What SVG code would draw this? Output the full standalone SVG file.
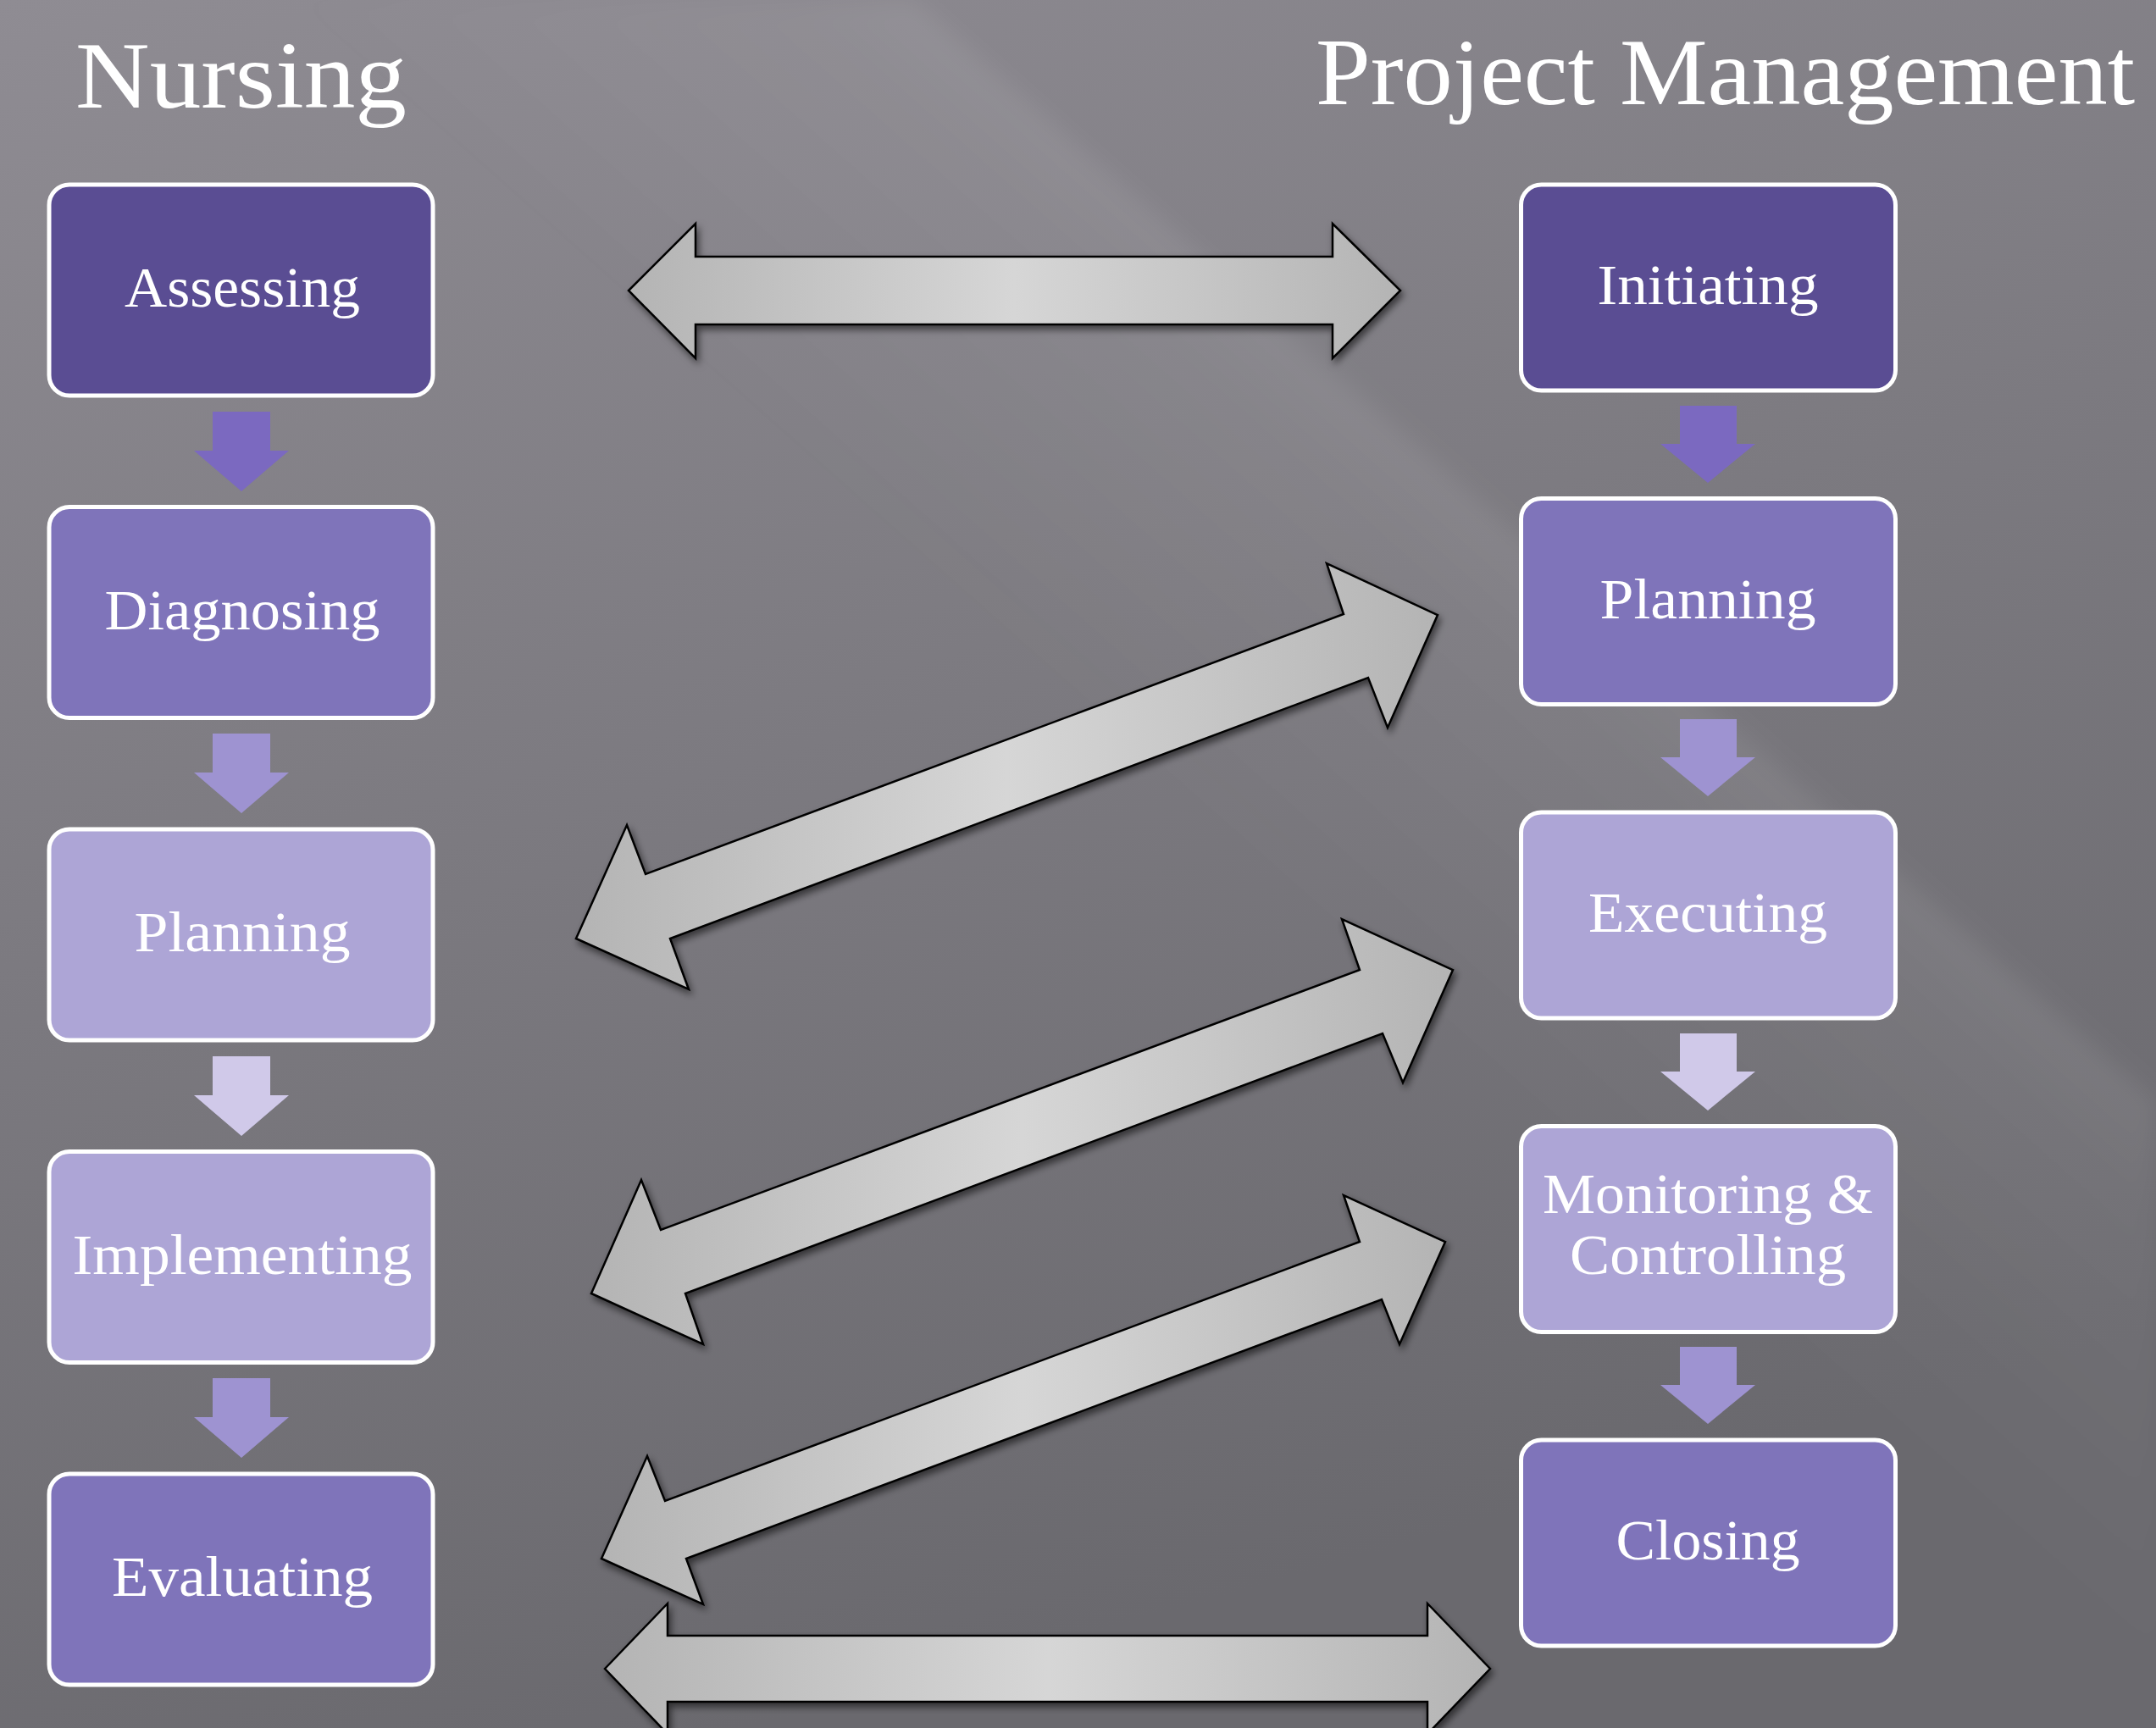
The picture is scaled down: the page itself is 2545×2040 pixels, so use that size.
<svg xmlns="http://www.w3.org/2000/svg" width="2545" height="2040" viewBox="0 0 2545 2040">
<defs>
<style>
.title{font-family:"Liberation Serif","DejaVu Serif",serif;font-size:112px;fill:#ffffff;}
.lbl{font-family:"Liberation Serif","DejaVu Serif",serif;font-size:68px;fill:#ffffff;text-anchor:middle;}
.box{stroke:#ffffff;stroke-width:5;}
.dark{fill:#5A4D93;}
.mid{fill:#7F74BA;}
.light{fill:#ADA5D6;}
.big{fill:url(#arrowGrad);stroke:#000000;stroke-width:2.5;stroke-linejoin:miter;filter:url(#shadow);}
</style>
<linearGradient id="bg" x1="0" y1="0" x2="0.35" y2="1">
<stop offset="0" stop-color="#8F8C93"/>
<stop offset="0.5" stop-color="#7C7A80"/>
<stop offset="1" stop-color="#6A696E"/>
</linearGradient>
<linearGradient id="band" gradientUnits="userSpaceOnUse" x1="1600" y1="463" x2="1268" y2="837">
<stop offset="0" stop-color="#ffffff" stop-opacity="0.08"/>
<stop offset="0.2" stop-color="#ffffff" stop-opacity="0.05"/>
<stop offset="1" stop-color="#ffffff" stop-opacity="0"/>
</linearGradient>
<linearGradient id="arrowGrad" x1="0" y1="0" x2="1" y2="0">
<stop offset="0" stop-color="#B4B4B4"/>
<stop offset="0.5" stop-color="#D6D6D6"/>
<stop offset="1" stop-color="#B4B4B4"/>
</linearGradient>
<filter id="shadow" x="-10%" y="-10%" width="120%" height="130%">
<feDropShadow dx="3" dy="5" stdDeviation="4" flood-color="#000000" flood-opacity="0.55"/>
</filter>
<filter id="soft"><feGaussianBlur stdDeviation="14"/></filter>
</defs>

<rect x="0" y="0" width="2545" height="2040" fill="url(#bg)"/>
<polygon points="1078,0 2545,1300 2545,2040 0,2040 0,0" fill="url(#band)" filter="url(#soft)"/>

<text class="title" x="89" y="127" textLength="391" lengthAdjust="spacingAndGlyphs">Nursing</text>
<text class="title" x="1553" y="123" textLength="967" lengthAdjust="spacingAndGlyphs">Project Management</text>

<g id="connectors">
<polygon class="big" points="742,343 821,264 821,303 1573,303 1573,264 1653,343 1573,423 1573,383 821,383 821,423"/>
<polygon class="big" points="680,1108 740,974 762,1032 1586,725 1566,665 1697,726 1638,859 1615,800 791,1108 813,1168"/>
<polygon class="big" points="698,1527 757,1393 780,1452 1605,1145 1584,1085 1715,1145 1656,1278 1632,1220 809,1527 830,1587"/>
<polygon class="big" points="710,1840 764,1719 785,1772 1605,1466 1586,1411 1706,1466 1652,1587 1631,1534 810,1840 830,1894"/>
<polygon class="big" points="714,1970 788,1893 788,1931 1685,1931 1685,1893 1759,1970 1685,2047 1685,2009 788,2009 788,2047"/>
<polygon fill="#7B69C0" points="251,486 319,486 319,532 341,532 285,580 229,532 251,532"/>
<polygon fill="#9E93D1" points="251,866 319,866 319,912 341,912 285,960 229,912 251,912"/>
<polygon fill="#D0C9E9" points="251,1247 319,1247 319,1293 341,1293 285,1341 229,1293 251,1293"/>
<polygon fill="#9E93D1" points="251,1627 319,1627 319,1673 341,1673 285,1721 229,1673 251,1673"/>
<polygon fill="#7B69C0" points="1983,479 2050,479 2050,524 2072,524 2016,570 1960,524 1983,524"/>
<polygon fill="#9E93D1" points="1983,849 2050,849 2050,894 2072,894 2016,940 1960,894 1983,894"/>
<polygon fill="#D0C9E9" points="1983,1220 2050,1220 2050,1265 2072,1265 2016,1311 1960,1265 1983,1265"/>
<polygon fill="#9E93D1" points="1983,1590 2050,1590 2050,1635 2072,1635 2016,1681 1960,1635 1983,1635"/>
</g>

<g id="n-assessing"><rect class="box dark" x="58" y="218" width="453" height="249" rx="24"/><text class="lbl" x="286" y="362" textLength="278" lengthAdjust="spacingAndGlyphs">Assessing</text></g>
<g id="n-diagnosing"><rect class="box mid" x="58" y="598.5" width="453" height="249" rx="24"/><text class="lbl" x="286" y="743" textLength="325" lengthAdjust="spacingAndGlyphs">Diagnosing</text></g>
<g id="n-planning-n"><rect class="box light" x="58" y="979" width="453" height="249" rx="24"/><text class="lbl" x="286" y="1123" textLength="255" lengthAdjust="spacingAndGlyphs">Planning</text></g>
<g id="n-implementing"><rect class="box light" x="58" y="1359.5" width="453" height="249" rx="24"/><text class="lbl" x="286" y="1504" textLength="401" lengthAdjust="spacingAndGlyphs">Implementing</text></g>
<g id="n-evaluating"><rect class="box mid" x="58" y="1740" width="453" height="249" rx="24"/><text class="lbl" x="286" y="1884" textLength="308" lengthAdjust="spacingAndGlyphs">Evaluating</text></g>

<g id="n-initiating"><rect class="box dark" x="1795.5" y="218" width="442" height="243" rx="24"/><text class="lbl" x="2016" y="359" textLength="261" lengthAdjust="spacingAndGlyphs">Initiating</text></g>
<g id="n-planning-p"><rect class="box mid" x="1795.5" y="588.5" width="442" height="243" rx="24"/><text class="lbl" x="2016" y="730" textLength="255" lengthAdjust="spacingAndGlyphs">Planning</text></g>
<g id="n-executing"><rect class="box light" x="1795.5" y="959" width="442" height="243" rx="24"/><text class="lbl" x="2016" y="1100" textLength="282" lengthAdjust="spacingAndGlyphs">Executing</text></g>
<g id="n-monitoring"><rect class="box light" x="1795.5" y="1329.5" width="442" height="243" rx="24"/><text class="lbl" x="2016" y="1432" textLength="390" lengthAdjust="spacingAndGlyphs">Monitoring &amp;</text><text class="lbl" x="2016" y="1504" textLength="326" lengthAdjust="spacingAndGlyphs">Controlling</text></g>
<g id="n-closing"><rect class="box mid" x="1795.5" y="1700" width="442" height="243" rx="24"/><text class="lbl" x="2016" y="1841" textLength="217" lengthAdjust="spacingAndGlyphs">Closing</text></g>
</svg>
